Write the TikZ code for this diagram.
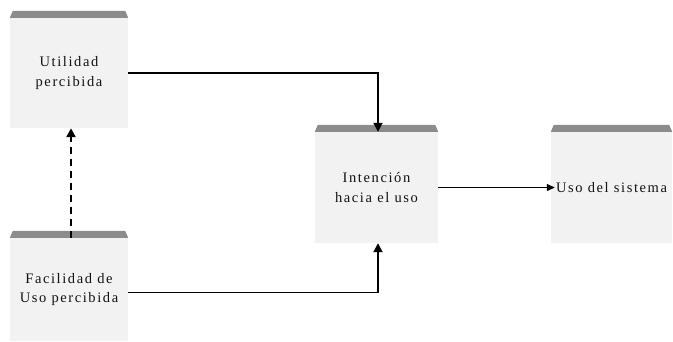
\documentclass[tikz,border=0pt]{standalone}
\usepackage{fontspec}
\setmainfont[LetterSpace=11]{Liberation Serif}
\usetikzlibrary{arrows.meta,positioning}
\definecolor{panelgray}{HTML}{F2F2F2}
\definecolor{capgray}{HTML}{8C8C8C}
\definecolor{inkgray}{HTML}{111111}
\tikzset{
  panel/.style={rectangle,fill=panelgray,minimum width=118pt,minimum height=110pt,
    inner sep=0pt,align=center,text=inkgray,font=\fontsize{14.5}{19.5}\selectfont},
  arrow/.style={-{Triangle[length=9pt,width=9pt]},line width=1.8pt},
  thinarrow/.style={-{Triangle[length=8pt,width=7pt]},line width=1.1pt},
  dasharrow/.style={-{Triangle[length=9pt,width=9pt]},line width=2.4pt,dash pattern=on 7pt off 5pt}
}
\begin{document}
\begin{tikzpicture}[x=1pt,y=-1pt]
\useasboundingbox (0,0) rectangle (673,341);
\node[panel] (util) at (69,73) {Utilidad\\percibida};
\node[panel,minimum height=103pt] (facil) at (69,289.5) {Facilidad de\\Uso percibida};
\node[panel,minimum width=123pt,minimum height=111pt] (inten) at (376.5,187.5) {Intención\\hacia el uso};
\node[panel,minimum width=121pt,minimum height=111pt] (uso) at (611.5,187.5) {Uso del sistema};
% caps on top of the panels
\foreach \n in {util,facil,inten,uso}
  \fill[capgray] (\n.north west) -- ([shift={(3pt,7pt)}]\n.north west)
    -- ([shift={(-3pt,7pt)}]\n.north east) -- (\n.north east) -- cycle;
\draw[arrow] (util.east) -| ([xshift=1.5pt]inten.north);
\draw[arrow] ([yshift=-3pt]facil.east) -| ([xshift=1.5pt]inten.south);
\draw[dasharrow] ([xshift=2pt]facil.north) -- ([xshift=2pt]util.south);
\draw[thinarrow] (inten.east) -- ([xshift=4pt]uso.west);
\end{tikzpicture}
\end{document}
